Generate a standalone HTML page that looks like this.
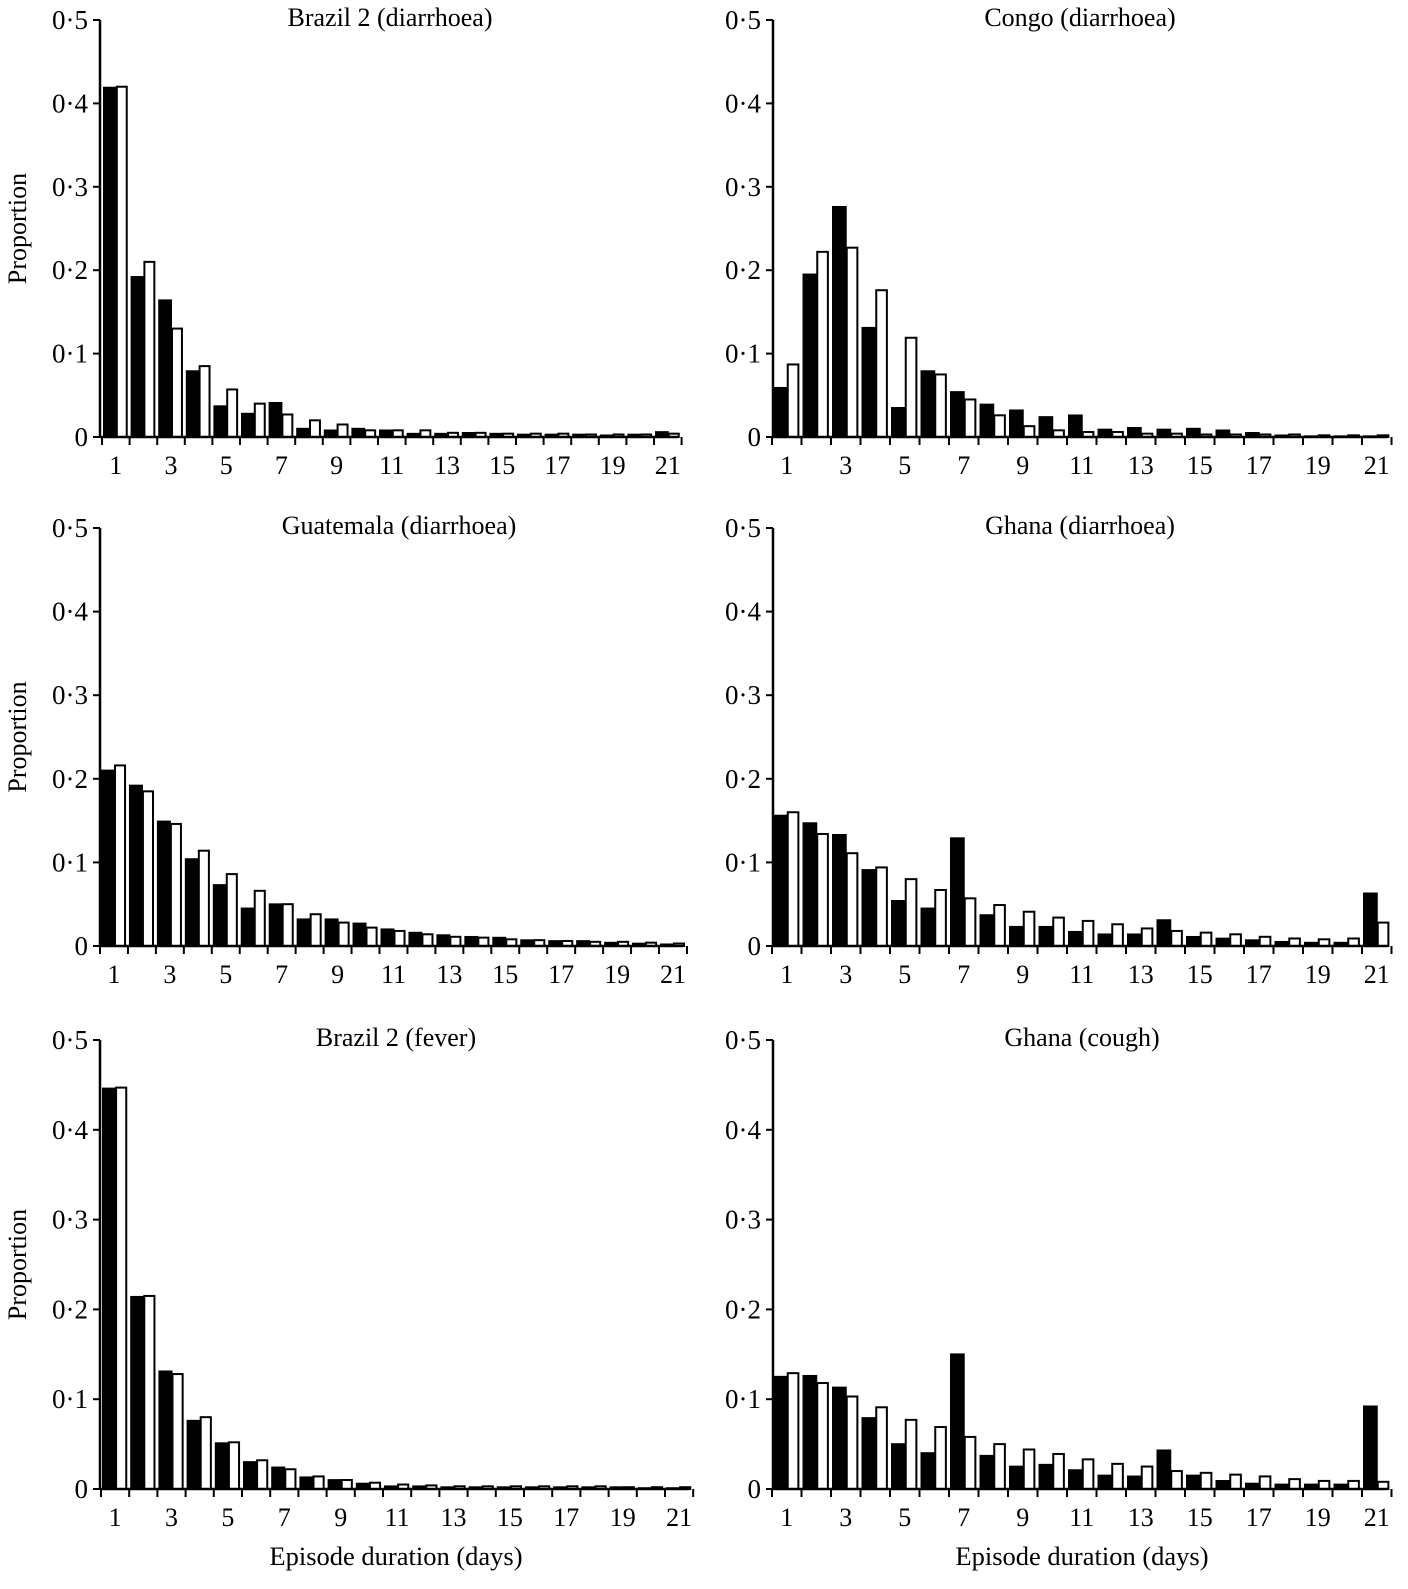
<!DOCTYPE html>
<html><head><meta charset="utf-8"><style>
body{margin:0;background:#fff}
svg text{font-family:"Liberation Serif",serif;fill:#000}
</style></head><body>
<svg id="c" width="1408" height="1584" xmlns="http://www.w3.org/2000/svg"></svg>
<script>
const days=[1,2,3,4,5,6,7,8,9,10,11,12,13,14,15,16,17,18,19,20,21];
const yTicks=[0,0.1,0.2,0.3,0.4,0.5];
const yTickLabels=["0","0·1","0·2","0·3","0·4","0·5"];
const titles=["Brazil 2 (diarrhoea)","Congo (diarrhoea)","Guatemala (diarrhoea)","Ghana (diarrhoea)","Brazil 2 (fever)","Ghana (cough)"];
const brazilDB=[.42,.193,.165,.08,.038,.029,.042,.011,.009,.011,.009,.005,.005,.006,.005,.004,.004,.004,.003,.004,.007];
const brazilDW=[.42,.21,.13,.085,.057,.04,.027,.02,.015,.008,.008,.008,.005,.005,.004,.004,.004,.003,.003,.003,.004];
const congoB=[.06,.196,.277,.132,.036,.08,.055,.04,.033,.025,.027,.01,.012,.01,.011,.009,.006,.003,.002,.002,.002];
const congoW=[.087,.222,.227,.176,.119,.075,.045,.026,.013,.008,.006,.006,.004,.004,.003,.003,.003,.003,.002,.002,.002];
const guatB=[.211,.193,.15,.105,.074,.046,.051,.033,.033,.028,.021,.017,.014,.012,.011,.008,.007,.007,.005,.004,.003];
const guatW=[.216,.185,.146,.114,.086,.066,.05,.038,.028,.022,.018,.014,.011,.01,.008,.007,.006,.005,.005,.004,.003];
const ghanaDB=[.157,.148,.134,.092,.055,.046,.13,.038,.024,.024,.018,.015,.015,.032,.012,.01,.008,.006,.005,.005,.064];
const ghanaDW=[.16,.134,.111,.094,.08,.067,.057,.049,.041,.034,.03,.026,.021,.018,.016,.014,.011,.009,.008,.009,.028];
const brazilFB=[.447,.215,.132,.077,.052,.031,.025,.014,.011,.007,.004,.004,.003,.003,.003,.003,.003,.003,.003,.002,.002];
const brazilFW=[.447,.215,.128,.08,.052,.032,.022,.014,.01,.007,.005,.004,.003,.003,.003,.003,.003,.003,.002,.002,.002];
const ghanaCB=[.126,.127,.114,.08,.051,.041,.151,.038,.026,.028,.022,.016,.015,.044,.016,.01,.007,.006,.006,.006,.093];
const ghanaCW=[.129,.118,.103,.091,.077,.069,.058,.05,.044,.039,.033,.028,.025,.02,.018,.016,.014,.011,.009,.009,.008];
const series=[[brazilDB,brazilDW],[congoB,congoW],[guatB,guatW],[ghanaDB,ghanaDW],[brazilFB,brazilFW],[ghanaCB,ghanaCW]];
const layout=[
 {ax:100,left:102,w:27.6,y0:437,y5:20,tx:390},
 {ax:773,left:772,w:29.5,y0:437,y5:20,tx:1080},
 {ax:100,left:100,w:27.95,y0:946,y5:528,tx:399},
 {ax:773,left:772,w:29.5,y0:946,y5:528,tx:1080},
 {ax:100,left:101,w:28.2,y0:1489,y5:1040,tx:396},
 {ax:773,left:772,w:29.5,y0:1489,y5:1040,tx:1082}];
const svg=document.getElementById('c');
const NS='http://www.w3.org/2000/svg';
function mk(t,a,p){const e=document.createElementNS(NS,t);for(const k in a)e.setAttribute(k,a[k]);(p||svg).appendChild(e);return e;}
layout.forEach((L,pi)=>{
 const g=mk('g',{});
 
 
 const yS=v=>L.y0-(L.y0-L.y5)*v/0.5;
 const xS=i=>L.left+i*L.w;
 const t=mk('text',{x:L.tx,y:L.y5+6,'font-size':26,'text-anchor':'middle'},g);t.textContent=titles[pi];
 
 
 const [B,W]=series[pi];
 days.forEach((d,i)=>{
  const x=xS(i);
  const b=mk('rect',{x:x+1,y:yS(B[i]),width:L.w*0.5,height:L.y0-yS(B[i]),fill:'#000'},g);
  
  
  const wh=L.y0-yS(W[i]);
  const r=mk('rect',{x:x+1+L.w*0.5,y:yS(W[i]),width:L.w*0.36,height:Math.max(wh,0),fill:'#fff',stroke:'#000','stroke-width':2},g);
  
  
  if(d%2===1){const tl=mk('text',{x:x+L.w/2,y:L.y0+37,'font-size':26,'text-anchor':'middle'},g);tl.textContent=d;
   
   }
 });
 for(let i=0;i<=21;i++)mk('line',{x1:xS(i),x2:xS(i),y1:L.y0,y2:L.y0+8,stroke:'#000','stroke-width':2},g);
 mk('line',{x1:L.ax,x2:xS(21)-4,y1:L.y0,y2:L.y0,stroke:'#000','stroke-width':2.5},g);
 mk('line',{x1:L.ax,x2:L.ax,y1:L.y5,y2:L.y0,stroke:'#000','stroke-width':2.5},g);
 yTicks.forEach((v,i)=>{
  mk('line',{x1:L.ax-7,x2:L.ax,y1:yS(v),y2:yS(v),stroke:'#000','stroke-width':2},g);
  const tl=mk('text',{x:L.ax-12,y:yS(v)+9,'font-size':27,'text-anchor':'end'},g);tl.textContent=yTickLabels[i];
  
  
 });
 if(pi%2===0){const yt=mk('text',{x:0,y:0,'font-size':26,'text-anchor':'middle',transform:`translate(26,${(L.y0+L.y5)/2}) rotate(-90)`},g);yt.textContent='Proportion';
  
  }
 if(pi>=4){const xt=mk('text',{x:pi===4?396:1082,y:1565,'font-size':26.5,'text-anchor':'middle'},g);xt.textContent='Episode duration (days)';
  
  }
});
</script>
</body></html>
